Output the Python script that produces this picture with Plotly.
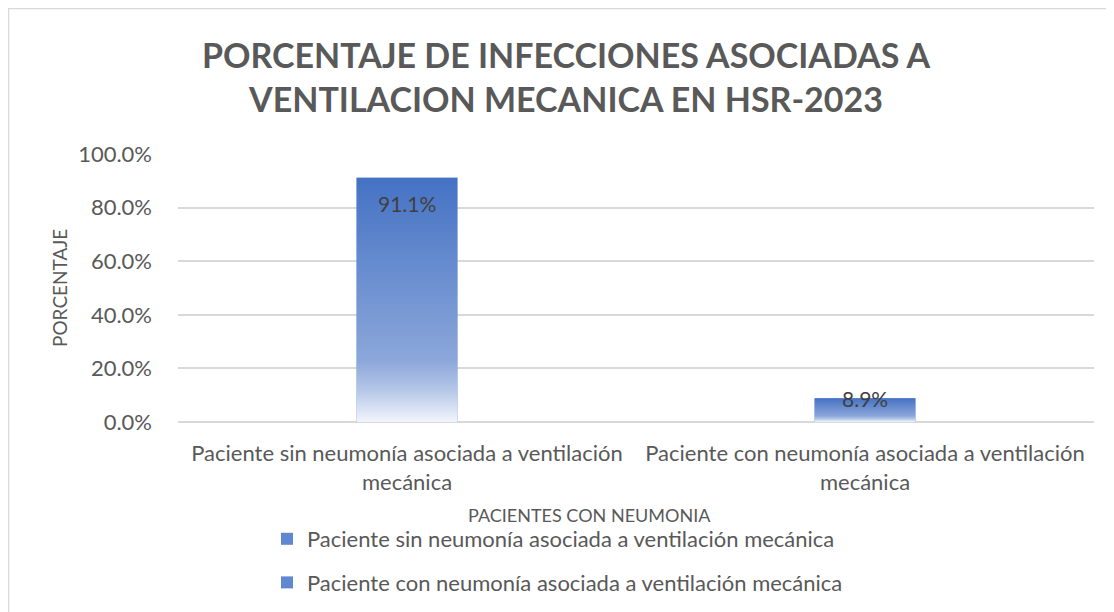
import plotly.graph_objects as go

categories = ["Paciente sin neumonía asociada a ventilación mecánica",
              "Paciente con neumonía asociada a ventilación mecánica"]
tick_labels = ["Paciente sin neumonía asociada a ventilación<br>mecánica",
               "Paciente con neumonía asociada a ventilación<br>mecánica"]
values = [91.1, 8.9]
value_labels = ["91.1%", "8.9%"]
y_ticks = [0, 20, 40, 60, 80, 100]
y_tick_labels = ["0.0%", "20.0%", "40.0%", "60.0%", "80.0%", "100.0%"]

FONT = "Lato"
GREY = "#595959"
BAR_W = 0.22
W, H = 1114, 612
O = 8  # page body offset
L, R, T = 170, 28, 146
B = H - (422 - O)
PW, PH = W - L - R, H - T - B


def px_x(p):
    return (p - O - L) / PW


def px_y(p):
    return (422 - p) / PH


gradient = [[0.0, "rgb(242,245,251)"], [0.12, "rgb(185,202,233)"],
            [0.25, "rgb(140,167,218)"], [1.0, "rgb(68,114,196)"]]

fig = go.Figure()
for i, (cat, v) in enumerate(zip(categories, values)):
    fig.add_trace(go.Bar(
        x=[i], y=[v], name=cat, width=BAR_W, legendgroup=f"g{i}",
        marker=dict(color="rgb(96,135,208)", line=dict(width=0)),
        hoverinfo="skip"))

for i, v in enumerate(values):
    x0, x1 = i - BAR_W / 2, i + BAR_W / 2
    fig.add_trace(go.Scatter(
        x=[x0, x1, x1, x0, x0], y=[0, 0, v, v, 0],
        mode="lines", fill="toself", line=dict(width=0),
        fillgradient=dict(type="vertical", colorscale=gradient),
        showlegend=False, hoverinfo="skip"))

label_shift = [-26, 0]
for i, (v, t) in enumerate(zip(values, value_labels)):
    fig.add_annotation(x=i, y=v, text=t, showarrow=False, yanchor="middle",
                       yshift=label_shift[i],
                       font=dict(family=FONT, size=21, color="#404040"))

fig.update_layout(
    width=W, height=H,
    margin=dict(l=L, r=R, t=T, b=B),
    paper_bgcolor="white", plot_bgcolor="white",
    barmode="overlay",
    showlegend=True,
    legend=dict(x=px_x(267), y=px_y(518), xanchor="left", yanchor="top",
                font=dict(family=FONT, size=22, color=GREY),
                traceorder="grouped", tracegroupgap=12, itemwidth=30,
                bgcolor="rgba(0,0,0,0)"),
    xaxis=dict(range=[-0.5, 1.5], tickvals=[0, 1], ticktext=tick_labels,
               showgrid=False, zeroline=False, showline=False, ticks="",
               ticklabelstandoff=16,
               tickfont=dict(family=FONT, size=22, color=GREY)),
    yaxis=dict(range=[0, 100], tickvals=y_ticks, ticktext=y_tick_labels,
               showgrid=True, gridcolor="#d9d9d9", gridwidth=1.5,
               zeroline=True, zerolinecolor="#d9d9d9", zerolinewidth=1.5,
               showline=False, ticks="", ticklabelstandoff=25,
               tickfont=dict(family=FONT, size=22, color=GREY)),
)

fig.add_annotation(xref="paper", yref="paper", x=px_x(566), y=px_y(76.5),
                   text="<b>PORCENTAJE DE INFECCIONES ASOCIADAS A<br>VENTILACION MECANICA EN HSR-2023</b>",
                   showarrow=False, yanchor="middle", xanchor="center",
                   font=dict(family=FONT, size=34, color=GREY))
fig.add_annotation(xref="paper", yref="paper", x=px_x(589), y=px_y(515),
                   text="PACIENTES CON NEUMONIA", showarrow=False,
                   yanchor="middle", xanchor="center",
                   font=dict(family=FONT, size=18, color=GREY))
fig.add_annotation(xref="paper", yref="paper", x=px_x(59), y=px_y(288),
                   text="PORCENTAJE", showarrow=False, textangle=-90,
                   yanchor="middle", xanchor="center",
                   font=dict(family=FONT, size=19, color=GREY))
fig.add_shape(type="rect", xref="paper", yref="paper",
              x0=px_x(8.5), x1=px_x(1130), y0=px_y(8.5), y1=px_y(640),
              line=dict(color="#d9d9d9", width=1.5), layer="below")

fig.write_html("out.html")
